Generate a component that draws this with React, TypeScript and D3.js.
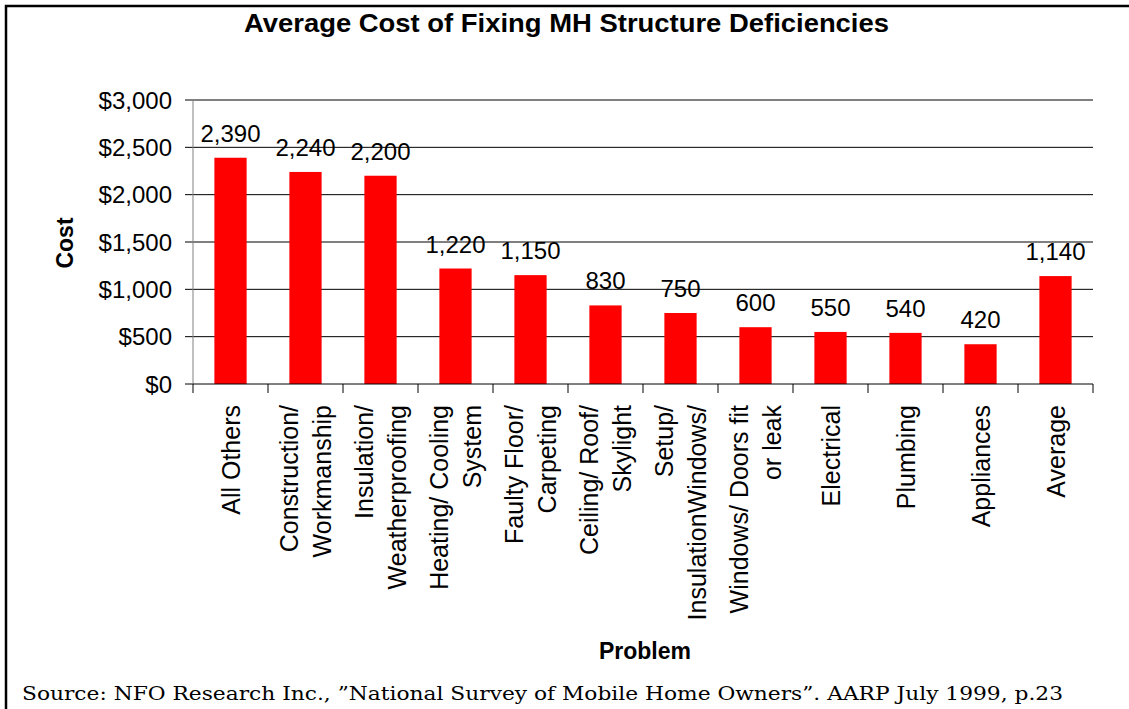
import React from "react";
import * as d3 from "d3";

const categories: string[][] = [
  ["All Others"],
  ["Construction/", "Workmanship"],
  ["Insulation/", "Weatherproofing"],
  ["Heating/ Cooling", "System"],
  ["Faulty Floor/", "Carpeting"],
  ["Ceiling/ Roof/", "Skylight"],
  ["Setup/", "InsulationWindows/"],
  ["Windows/ Doors fit", "or leak"],
  ["Electrical"],
  ["Plumbing"],
  ["Appliances"],
  ["Average"],
];
const costs: number[] = [2390, 2240, 2200, 1220, 1150, 830, 750, 600, 550, 540, 420, 1140];
const yTicks: number[] = [0, 500, 1000, 1500, 2000, 2500, 3000];

const title = "Average Cost of Fixing MH Structure Deficiencies";
const yTitle = "Cost";
const xTitle = "Problem";
const source = "Source: NFO Research Inc., \u201DNational Survey of Mobile Home Owners\u201D. AARP July 1999, p.23";

const W = 1129;
const H = 709;
const plot = { left: 193, right: 1093, top: 100, bottom: 384 };
const sans = "'Liberation Sans', Arial, sans-serif";

export default function App() {
  const idx = categories.map((_, i) => String(i));
  const x = d3.scaleBand<string>().domain(idx).range([plot.left, plot.right]).paddingInner(0).paddingOuter(0);
  const y = d3.scaleLinear().domain([0, 3000]).range([plot.bottom, plot.top]);
  const bw = x.bandwidth();
  const barW = bw * 0.43;
  const fmt = d3.format(",");
  const fmtD = (v: number) => "$" + d3.format(",")(v);

  return (
    <svg width={W} height={H} style={{ position: "absolute", left: 0, top: 0, background: "#fff" }}>
      <rect x={6} y={6} width={W + 20} height={H + 20} fill="#fff" stroke="#000" strokeWidth={2.5} />
      <text x={244} y={32} textLength={645} lengthAdjust="spacingAndGlyphs" fontFamily={sans} fontWeight="bold" fontSize={25}>{title}</text>

      {yTicks.map((t) => (
        <g key={t}>
          {t > 0 && <line x1={plot.left} x2={plot.right} y1={y(t)} y2={y(t)} stroke="#000" strokeWidth={1} />}
          <line x1={plot.left - 8} x2={plot.left} y1={y(t)} y2={y(t)} stroke="#000" strokeWidth={1} />
          <text x={172} y={y(t)} dy="0.36em" textAnchor="end" fontFamily={sans} fontSize={24}>{fmtD(t)}</text>
        </g>
      ))}
      <line x1={plot.left} x2={plot.left} y1={plot.top} y2={plot.bottom} stroke="#808080" strokeWidth={1} />

      {costs.map((v, i) => {
        const cx = (x(String(i)) as number) + bw / 2;
        return (
          <g key={i}>
            <rect x={cx - barW / 2} y={y(v)} width={barW} height={y(0) - y(v)} fill="#ff0000" />
            <text x={cx} y={y(v) - 16} textAnchor="middle" fontFamily={sans} fontSize={24}>{fmt(v)}</text>
          </g>
        );
      })}

      <line x1={plot.left} x2={plot.right} y1={plot.bottom} y2={plot.bottom} stroke="#000" strokeWidth={1} />
      {d3.range(categories.length + 1).map((i) => {
        const xx = plot.left + i * bw;
        return <line key={i} x1={xx} x2={xx} y1={plot.bottom} y2={plot.bottom + 9} stroke="#000" strokeWidth={1} />;
      })}

      {categories.map((lines, i) => {
        const cx = (x(String(i)) as number) + bw / 2;
        const n = lines.length;
        return lines.map((ln, j) => {
          const off = (j - (n - 1) / 2) * 33 + 9;
          return (
            <text
              key={i + "-" + j}
              transform={`translate(${cx + off},405) rotate(-90)`}
              textAnchor="end"
              fontFamily={sans}
              fontSize={25}
            >
              {ln}
            </text>
          );
        });
      })}

      <text transform="translate(73,243) rotate(-90)" textAnchor="middle" fontFamily={sans} fontWeight="bold" fontSize={23}>{yTitle}</text>
      <text x={645} y={659} textAnchor="middle" fontFamily={sans} fontWeight="bold" fontSize={23}>{xTitle}</text>
      <text x={22} y={700} textLength={1041} lengthAdjust="spacingAndGlyphs" fontFamily="'DejaVu Serif', serif" fontSize={19}>{source}</text>
    </svg>
  );
}
